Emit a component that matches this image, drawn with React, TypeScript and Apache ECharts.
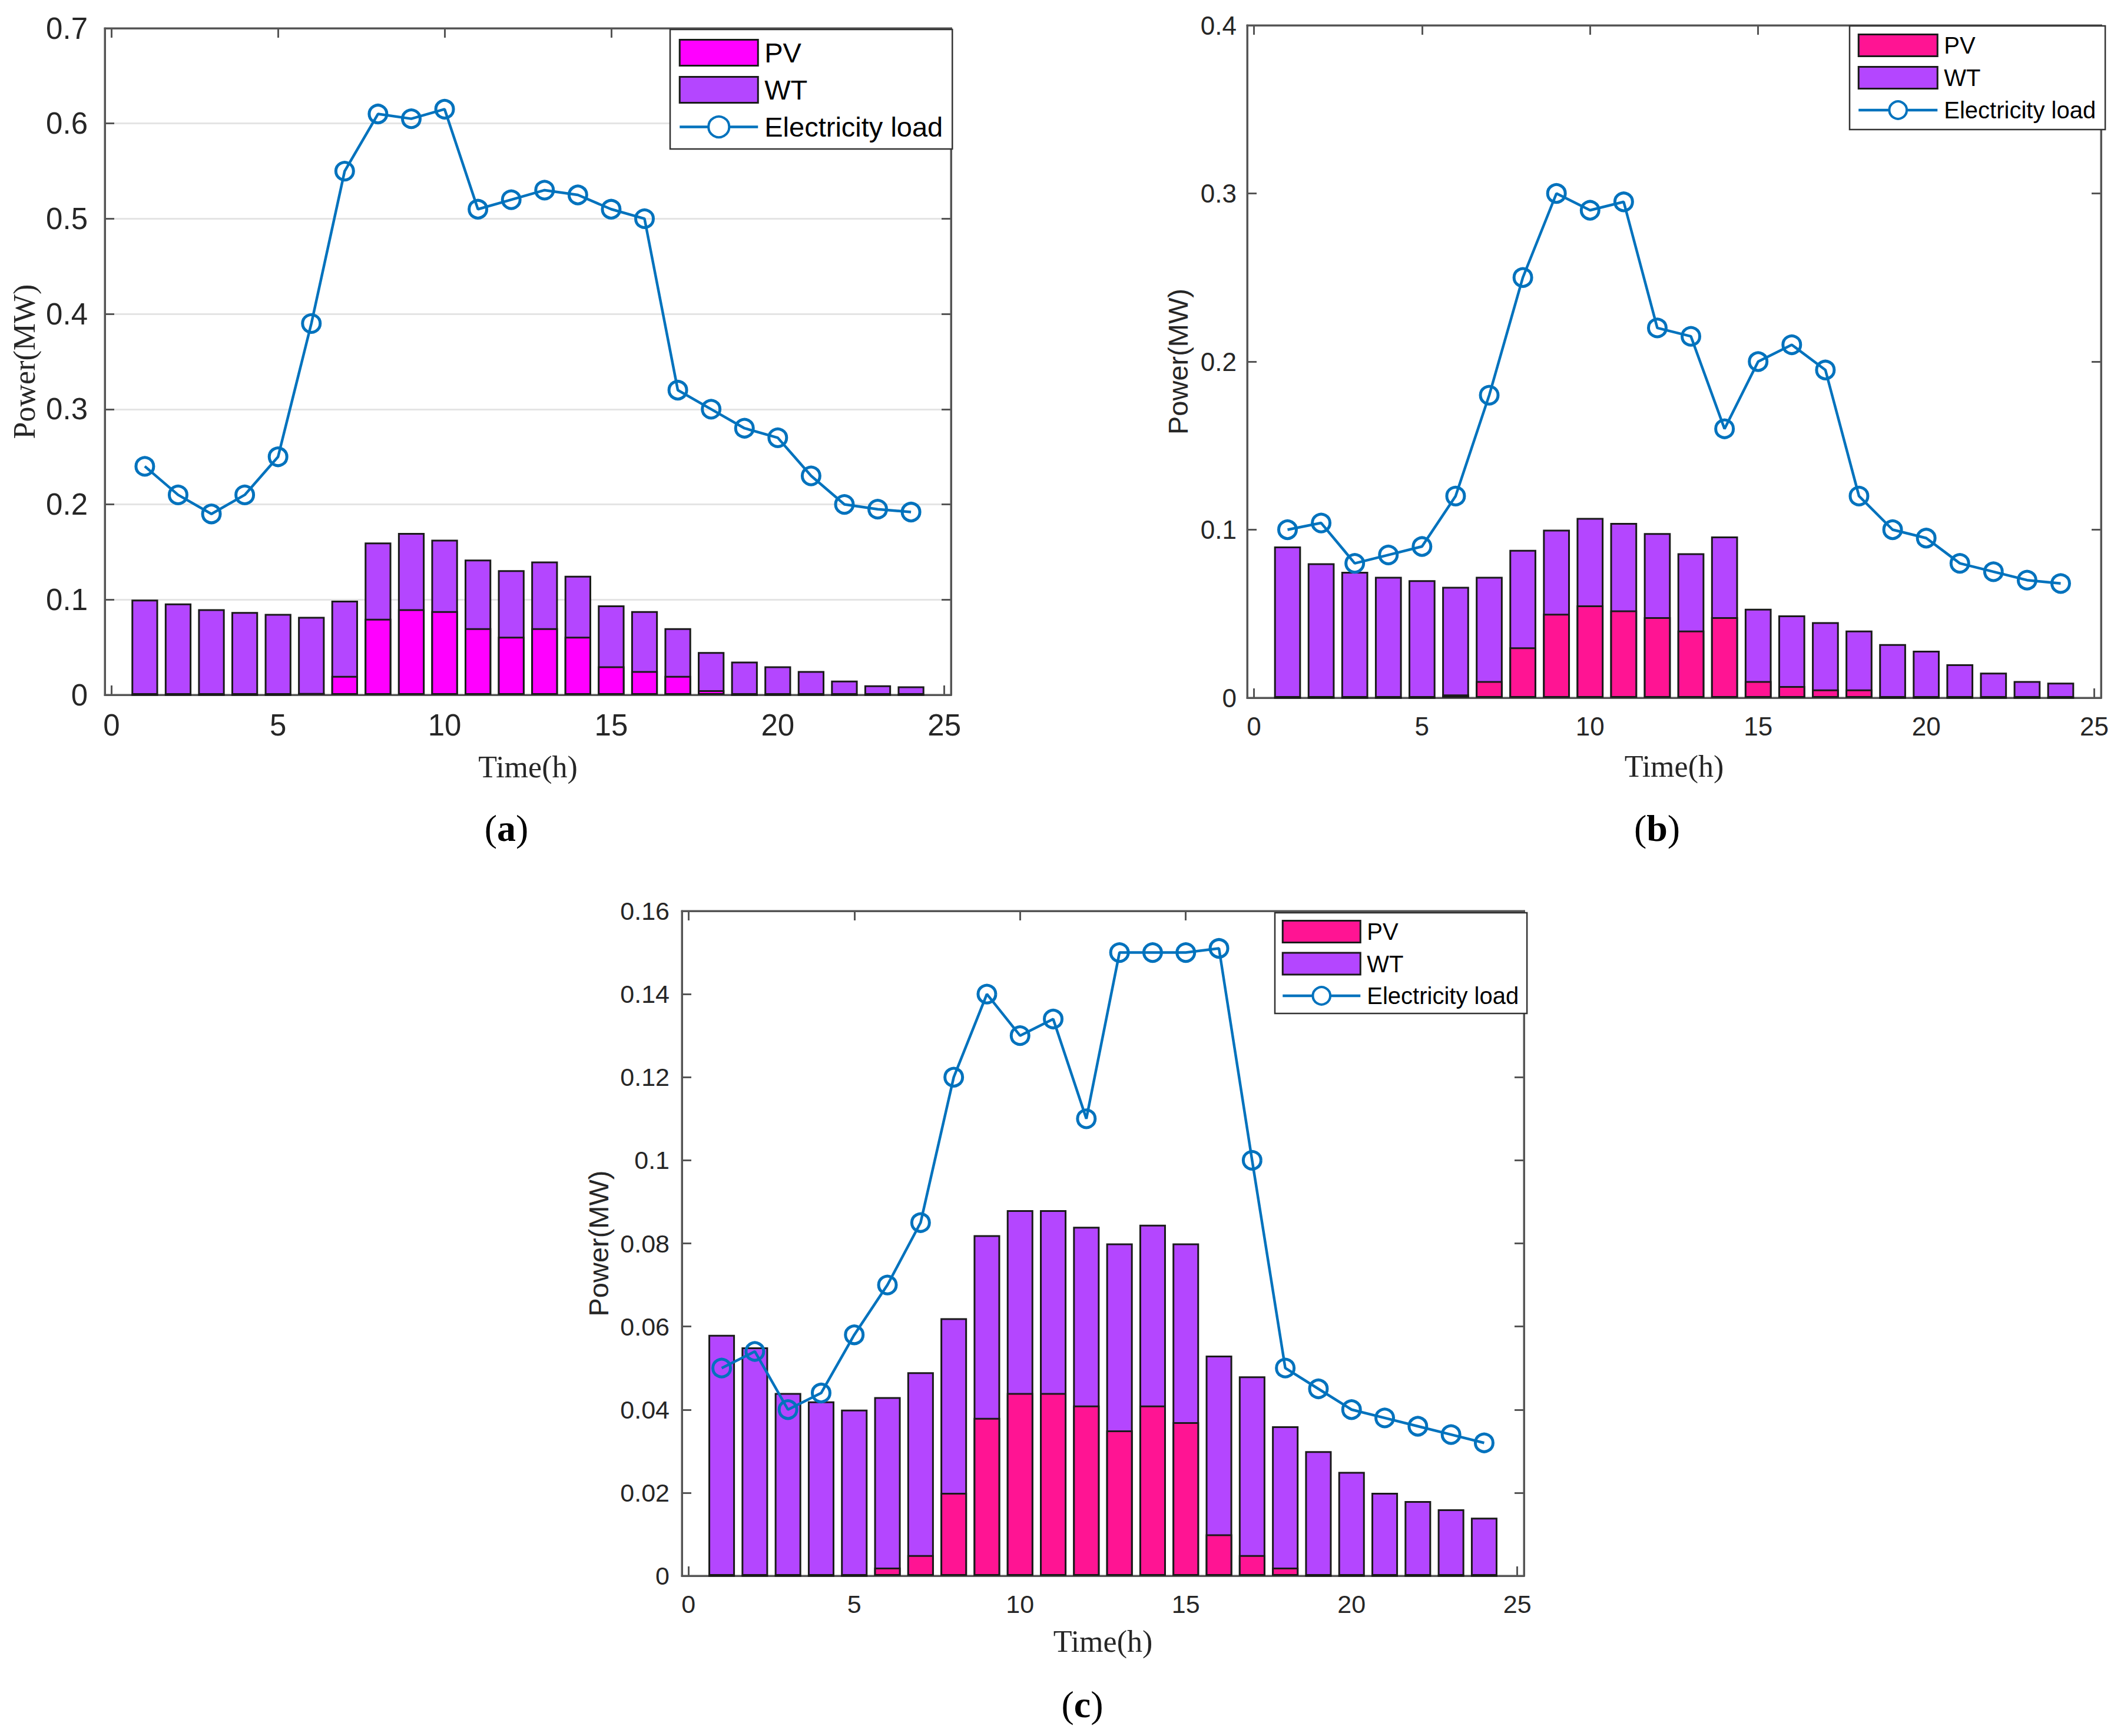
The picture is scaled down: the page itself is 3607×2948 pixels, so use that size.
import React, { useEffect, useRef } from "react";
import * as echarts from "echarts";

// ---------- data ----------
const hours = [1, 2, 3, 4, 5, 6, 7, 8, 9, 10, 11, 12, 13, 14, 15, 16, 17, 18, 19, 20, 21, 22, 23, 24];
const xTickValues = [0, 5, 10, 15, 20, 25];

const loadA = [0.24, 0.21, 0.19, 0.21, 0.25, 0.39, 0.55, 0.61, 0.605, 0.615, 0.51, 0.52, 0.53, 0.525, 0.51, 0.5, 0.32, 0.3, 0.28, 0.27, 0.23, 0.2, 0.195, 0.192];
const pvA = [0, 0, 0, 0, 0, 0.002, 0.02, 0.08, 0.09, 0.088, 0.07, 0.061, 0.07, 0.061, 0.03, 0.025, 0.02, 0.005, 0, 0, 0, 0, 0, 0];
const wtA = [0.1, 0.096, 0.09, 0.087, 0.085, 0.08, 0.079, 0.08, 0.08, 0.075, 0.072, 0.07, 0.07, 0.064, 0.064, 0.063, 0.05, 0.04, 0.035, 0.03, 0.025, 0.015, 0.01, 0.009];

const loadB = [0.1, 0.104, 0.08, 0.085, 0.09, 0.12, 0.18, 0.25, 0.3, 0.29, 0.295, 0.22, 0.215, 0.16, 0.2, 0.21, 0.195, 0.12, 0.1, 0.095, 0.08, 0.075, 0.07, 0.068];
const pvB = [0, 0, 0, 0, 0, 0.002, 0.01, 0.03, 0.05, 0.055, 0.052, 0.048, 0.04, 0.048, 0.01, 0.007, 0.005, 0.005, 0, 0, 0, 0, 0, 0];
const wtB = [0.09, 0.08, 0.075, 0.072, 0.07, 0.064, 0.062, 0.058, 0.05, 0.052, 0.052, 0.05, 0.046, 0.048, 0.043, 0.042, 0.04, 0.035, 0.032, 0.028, 0.02, 0.015, 0.01, 0.009];

const loadC = [0.05, 0.054, 0.04, 0.044, 0.058, 0.07, 0.085, 0.12, 0.14, 0.13, 0.134, 0.11, 0.15, 0.15, 0.15, 0.151, 0.1, 0.05, 0.045, 0.04, 0.038, 0.036, 0.034, 0.032];
const pvC = [0, 0, 0, 0, 0, 0.002, 0.005, 0.02, 0.038, 0.044, 0.044, 0.041, 0.035, 0.041, 0.037, 0.01, 0.005, 0.002, 0, 0, 0, 0, 0, 0];
const wtC = [0.058, 0.055, 0.044, 0.042, 0.04, 0.041, 0.044, 0.042, 0.044, 0.044, 0.044, 0.043, 0.045, 0.0435, 0.043, 0.043, 0.043, 0.034, 0.03, 0.025, 0.02, 0.018, 0.016, 0.014];

const seriesNames = ["PV", "WT", "Electricity load"];
const xName = "Time(h)";
const yName = "Power(MW)";

// ---------- styles ----------
const AXIS = "#555555";
const TXT = "#262626";
const BLUE = "#0072BD";
const WT_COLOR = "#B446FF";
const SANS = "'Liberation Sans', Arial, Helvetica, sans-serif";
const SERIF = "'Liberation Serif', 'Times New Roman', serif";

type Panel = {
  key: string;
  tag: string;
  div: { left: number; top: number; width: number; height: number };
  grid: { left: number; top: number; width: number; height: number };
  yMax: number;
  yInterval: number;
  yGrid: boolean;
  tickFont: number;
  yLabelMargin: number;
  xLabelMargin: number;
  yNameFont: number;
  yNameFamily: string;
  yNameGap: number;
  xNameGap: number;
  pvColor: string;
  pv: number[];
  wt: number[];
  load: number[];
  legend: { left: number; top: number; padding: number[]; itemWidth: number; itemHeight: number; itemGap: number; font: number };
  tagPos: { x: number; y: number };
};

const panels: Panel[] = [
  {
    key: "a",
    tag: "a",
    div: { left: 0, top: 0, width: 1800, height: 1474 },
    grid: { left: 178, top: 48, width: 1437, height: 1132 },
    yMax: 0.7,
    yInterval: 0.1,
    yGrid: true,
    tickFont: 51,
    yLabelMargin: 29,
    xLabelMargin: 26,
    yNameFont: 52,
    yNameFamily: SERIF,
    yNameGap: 108,
    xNameGap: 96,
    pvColor: "#FF00FF",
    pv: pvA,
    wt: wtA,
    load: loadA,
    legend: { left: 1138, top: 50, padding: [16, 16, 14, 14], itemWidth: 133, itemHeight: 44, itemGap: 16, font: 47 },
    tagPos: { x: 860, y: 1406 },
  },
  {
    key: "b",
    tag: "b",
    div: { left: 1800, top: 0, width: 1807, height: 1474 },
    grid: { left: 318, top: 43, width: 1450, height: 1142 },
    yMax: 0.4,
    yInterval: 0.1,
    yGrid: false,
    tickFont: 44,
    yLabelMargin: 18,
    xLabelMargin: 26,
    yNameFont: 47,
    yNameFamily: SANS,
    yNameGap: 94,
    xNameGap: 90,
    pvColor: "#FF1493",
    pv: pvB,
    wt: wtB,
    load: loadB,
    legend: { left: 1341, top: 44, padding: [13, 16, 13, 13], itemWidth: 134, itemHeight: 37, itemGap: 15, font: 40 },
    tagPos: { x: 1014, y: 1406 },
  },
  {
    key: "c",
    tag: "c",
    div: { left: 900, top: 1474, width: 1800, height: 1474 },
    grid: { left: 258, top: 73, width: 1430, height: 1129 },
    yMax: 0.16,
    yInterval: 0.02,
    yGrid: false,
    tickFont: 43,
    yLabelMargin: 21,
    xLabelMargin: 26,
    yNameFont: 47,
    yNameFamily: SANS,
    yNameGap: 118,
    xNameGap: 85,
    pvColor: "#FF1493",
    pv: pvC,
    wt: wtC,
    load: loadC,
    legend: { left: 1265, top: 76, padding: [12, 14, 10, 11], itemWidth: 132, itemHeight: 37, itemGap: 14.5, font: 40 },
    tagPos: { x: 938, y: 1420 },
  },
];

function buildOption(p: Panel): any {
  const barWidth = (0.8 * p.grid.width) / 25.4;
  const lineW = { color: AXIS, width: 3 };
  // WT is stacked on PV: its bar top sits at PV + WT
  const pvPairs = hours.map((h, i) => [h, p.pv[i]]);
  const wtTopPairs = hours.map((h, i) => [h, p.pv[i] + p.wt[i]]);
  const loadPairs = hours.map((h, i) => [h, p.load[i]]);
  return {
    animation: false,
    grid: {
      left: p.grid.left,
      top: p.grid.top,
      width: p.grid.width,
      height: p.grid.height,
      show: true,
      borderColor: AXIS,
      borderWidth: 3,
      backgroundColor: "rgba(0,0,0,0)",
    },
    legend: {
      orient: "vertical",
      left: p.legend.left,
      top: p.legend.top,
      padding: p.legend.padding,
      itemWidth: p.legend.itemWidth,
      itemHeight: p.legend.itemHeight,
      itemGap: p.legend.itemGap,
      backgroundColor: "#ffffff",
      borderColor: "#333333",
      borderWidth: 2.5,
      borderRadius: 0,
      selectedMode: false,
      textStyle: {
        fontFamily: SANS,
        fontSize: p.legend.font,
        color: "#000000",
        lineHeight: p.legend.itemHeight,
        padding: [0, 0, 0, 6],
      },
      data: [
        { name: seriesNames[0], icon: "rect", itemStyle: { borderColor: "#1a1a1a", borderWidth: 3 } },
        { name: seriesNames[1], icon: "rect", itemStyle: { borderColor: "#1a1a1a", borderWidth: 3 } },
        {
          name: seriesNames[2],
          itemStyle: { color: "#ffffff", borderColor: BLUE, borderWidth: 4 },
          lineStyle: { color: BLUE, width: 4.5 },
        },
      ],
    },
    graphic: [
      {
        type: "text",
        x: p.tagPos.x,
        y: p.tagPos.y,
        style: {
          text: "{p|(}{b|" + p.tag + "}{p|)}",
          textAlign: "center",
          textVerticalAlign: "middle",
          rich: {
            p: { fontFamily: SERIF, fontSize: 64, fill: "#000" },
            b: { fontFamily: SERIF, fontSize: 64, fontWeight: "bold", fill: "#000" },
          },
        },
      },
    ],
    xAxis: [
      {
        type: "value",
        min: -0.2,
        max: 25.2,
        position: "bottom",
        axisLine: { show: true, onZero: false, lineStyle: lineW },
        axisTick: { show: true, inside: true, length: 16, customValues: xTickValues, lineStyle: lineW },
        axisLabel: {
          customValues: xTickValues,
          fontFamily: SANS,
          fontSize: p.tickFont,
          color: TXT,
          margin: p.xLabelMargin,
        },
        splitLine: { show: false },
        name: xName,
        nameLocation: "middle",
        nameGap: p.xNameGap,
        nameTextStyle: { fontFamily: SERIF, fontSize: 52, color: TXT },
      },
      {
        type: "value",
        min: -0.2,
        max: 25.2,
        position: "top",
        axisLine: { show: true, onZero: false, lineStyle: lineW },
        axisTick: { show: true, inside: true, length: 16, customValues: xTickValues, lineStyle: lineW },
        axisLabel: { show: false, customValues: xTickValues },
        splitLine: { show: false },
      },
    ],
    yAxis: [
      {
        type: "value",
        min: 0,
        max: p.yMax,
        interval: p.yInterval,
        position: "left",
        axisLine: { show: true, onZero: false, lineStyle: lineW },
        axisTick: { show: true, inside: true, length: 16, lineStyle: lineW },
        axisLabel: { fontFamily: SANS, fontSize: p.tickFont, color: TXT, margin: p.yLabelMargin },
        splitLine: { show: p.yGrid, lineStyle: { color: "#e4e4e4", width: 3 } },
        name: yName,
        nameLocation: "middle",
        nameGap: p.yNameGap,
        nameTextStyle: { fontFamily: p.yNameFamily, fontSize: p.yNameFont, color: TXT },
      },
      {
        type: "value",
        min: 0,
        max: p.yMax,
        interval: p.yInterval,
        position: "right",
        axisLine: { show: true, onZero: false, lineStyle: lineW },
        axisTick: { show: true, inside: true, length: 16, lineStyle: lineW },
        axisLabel: { show: false },
        splitLine: { show: false },
      },
    ],
    series: [
      {
        type: "bar",
        name: seriesNames[1],
        xAxisIndex: 0,
        yAxisIndex: 0,
        barWidth,
        barGap: "-100%",
        data: wtTopPairs,
        itemStyle: { color: WT_COLOR, borderColor: "#1a1a1a", borderWidth: 3 },
        z: 2,
      },
      {
        type: "bar",
        name: seriesNames[0],
        xAxisIndex: 0,
        yAxisIndex: 0,
        barWidth,
        barGap: "-100%",
        data: pvPairs,
        itemStyle: { color: p.pvColor, borderColor: "#1a1a1a", borderWidth: 3 },
        z: 3,
      },
      {
        type: "line",
        name: seriesNames[2],
        xAxisIndex: 0,
        yAxisIndex: 0,
        data: loadPairs,
        symbol: "circle",
        symbolSize: 30,
        color: BLUE,
        lineStyle: { color: BLUE, width: 4.5 },
        itemStyle: { color: "rgba(255,255,255,0)", borderColor: BLUE, borderWidth: 5 },
        z: 5,
      },
    ],
  };
}

function ChartPanel({ panel }: { panel: Panel }) {
  const ref = useRef<HTMLDivElement>(null);
  useEffect(() => {
    if (!ref.current) return;
    const chart = echarts.init(ref.current, undefined, { renderer: "svg" });
    chart.setOption(buildOption(panel));
    return () => chart.dispose();
  }, [panel]);
  return (
    <div
      ref={ref}
      style={{
        position: "absolute",
        left: panel.div.left,
        top: panel.div.top,
        width: panel.div.width,
        height: panel.div.height,
      }}
    />
  );
}

export default function App() {
  return (
    <div style={{ position: "absolute", left: 0, top: 0, width: 3607, height: 2948, background: "#ffffff" }}>
      {panels.map((p) => (
        <ChartPanel key={p.key} panel={p} />
      ))}
    </div>
  );
}
